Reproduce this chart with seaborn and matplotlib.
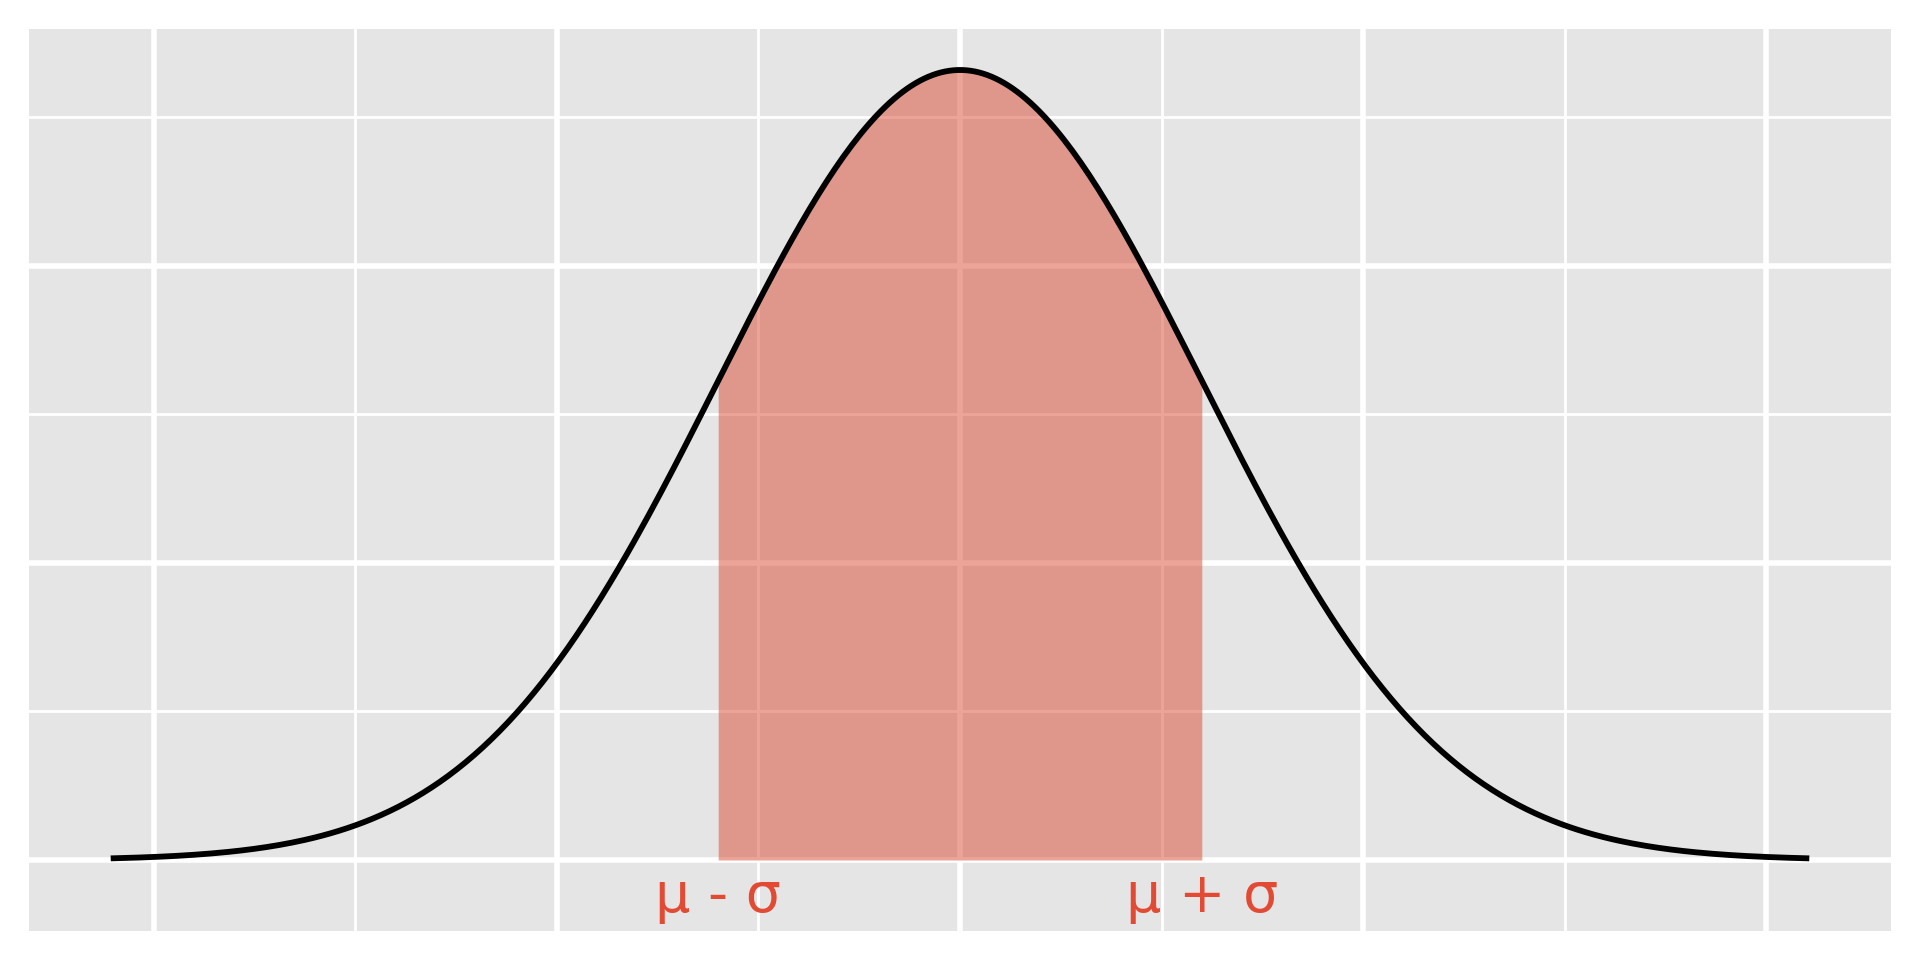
import numpy as np
import pandas as pd
import matplotlib
matplotlib.use("Agg")
import matplotlib.pyplot as plt
import seaborn as sns
from matplotlib.ticker import MultipleLocator

# ---- data ----
mu = 0.0
sigma = 3.0
x_range = [-10.5, 10.5]          # mu +/- 3.5 sigma
n_points = 400
band_labels = ["μ - σ", "μ + σ"]
band_positions = [mu - sigma, mu + sigma]

x = np.linspace(x_range[0], x_range[1], n_points)
pdf = np.exp(-0.5 * ((x - mu) / sigma) ** 2) / (sigma * np.sqrt(2 * np.pi))
df = pd.DataFrame({"x": x, "density": pdf})

# ---- style ----
plt.style.use("ggplot")
fig, ax = plt.subplots(figsize=(9.6, 4.8), dpi=200)
fig.subplots_adjust(left=29 / 1920, right=1891 / 1920, bottom=1 - 931 / 960, top=1 - 29 / 960)
ax.set_facecolor("#E5E5E5")
ax.set_axisbelow(True)

# shaded band mu +/- sigma
mask = (x >= band_positions[0]) & (x <= band_positions[1])
xb = np.concatenate([[band_positions[0]], x[mask], [band_positions[1]]])
yb = np.exp(-0.5 * ((xb - mu) / sigma) ** 2) / (sigma * np.sqrt(2 * np.pi))
ax.fill_between(xb, 0, yb, color="#DC4A33", alpha=0.5, linewidth=0)

sns.lineplot(data=df, x="x", y="density", color="black", linewidth=2.1, ax=ax)

for lab, pos in zip(band_labels, band_positions):
    ax.text(pos, -0.0088, lab, color="#E24A33", fontsize=20, ha="center", va="baseline")

ax.set_xlim(-11.55, 11.55)
ax.set_ylim(-0.01195, 0.13988)
ax.xaxis.set_major_locator(MultipleLocator(5))
ax.xaxis.set_minor_locator(MultipleLocator(2.5))
ax.yaxis.set_major_locator(MultipleLocator(0.05))
ax.yaxis.set_minor_locator(MultipleLocator(0.025))
ax.grid(which="major", color="white", linewidth=2.0)
ax.grid(which="minor", color="white", linewidth=1.0)
ax.tick_params(which="both", length=0, labelbottom=False, labelleft=False)
ax.set_xlabel("")
ax.set_ylabel("")
for s in ax.spines.values():
    s.set_visible(False)

fig.savefig("out.png", dpi=200)
